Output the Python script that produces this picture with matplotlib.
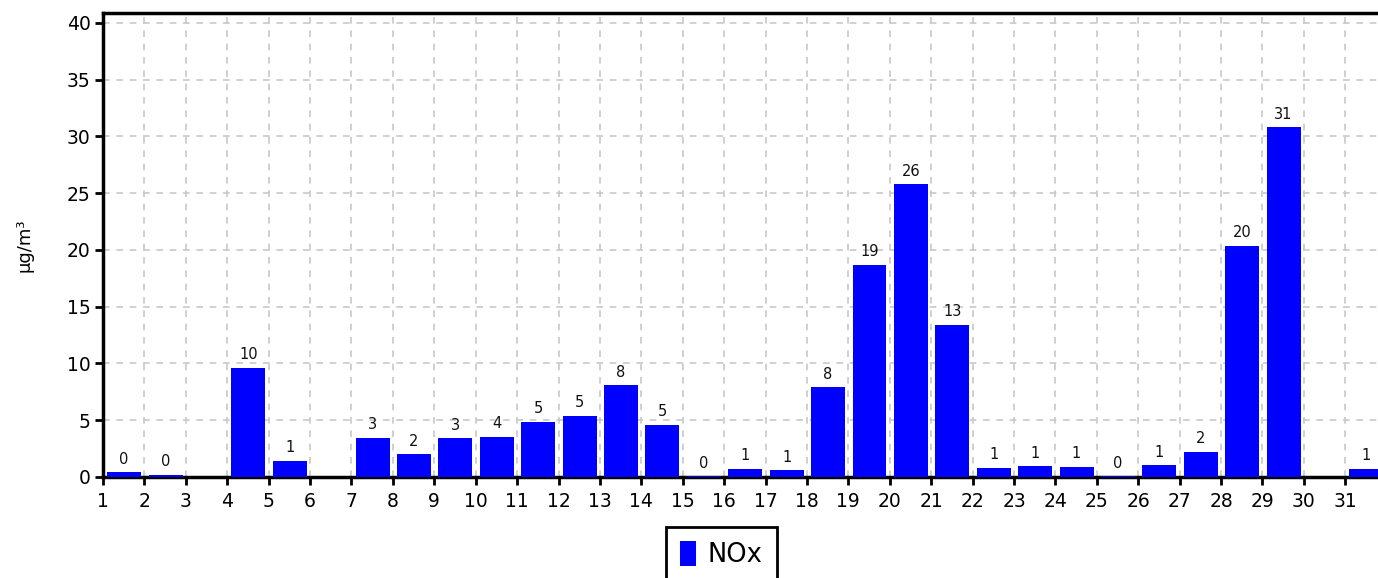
import matplotlib
matplotlib.use("Agg")
import matplotlib.pyplot as plt
import numpy as np

days = list(range(1, 32))
nox = [0.4, 0.2, np.nan, 9.6, 1.45, np.nan, 3.45, 2.0, 3.4, 3.55,
       4.85, 5.4, 8.1, 4.6, 0.05, 0.7, 0.6, 7.9, 18.7, 25.8,
       13.4, 0.8, 0.95, 0.9, 0.05, 1.05, 2.2, 20.35, 30.8, np.nan,
       0.7]
series_name = "NOx"
y_label = "µg/m³"
bar_color = "#0000ff"

plt.rcParams['font.family'] = ['DejaVu Sans']
fig = plt.figure(figsize=(13.78, 5.78), dpi=100)
ax = fig.add_axes([103/1378, 1 - 477/578, 1 - 103/1378, (477 - 13)/578])

x = np.array(days) + 0.51
vals = np.array(nox, dtype=float)
bars = ax.bar(x, vals, width=0.82, color=bar_color, label=series_name, zorder=3)

for xi, v in zip(x, vals):
    if np.isnan(v):
        continue
    ax.annotate(f"{int(np.floor(v + 0.5))}", (xi, v), xytext=(0, 4), textcoords="offset points",
                ha="center", va="bottom", fontsize=10.5, color="#111111", zorder=4)

ax.set_xlim(1, 31.79)
ax.set_ylim(0, 40.88)
ax.set_xticks(days)
ax.set_yticks(range(0, 41, 5))
ax.tick_params(axis='both', direction='out', length=6, width=2, labelsize=13.5, colors='black')
ax.tick_params(axis='x', pad=5)
ax.tick_params(axis='y', pad=3)

ax.grid(True, color="#c8c8c8", linestyle=(0, (4, 4)), linewidth=1.2, zorder=0)
ax.set_axisbelow(True)

for s in ['left', 'bottom', 'top']:
    ax.spines[s].set_linewidth(2.5)
    ax.spines[s].set_color('black')
ax.spines['right'].set_visible(False)

ax.set_ylabel(y_label, fontsize=13, labelpad=24)

leg = fig.legend(handles=[bars], labels=[series_name], loc='upper center',
                 bbox_to_anchor=(721.5/1378, 1 - 527/578), fontsize=18.5,
                 handlelength=0.62, handleheight=1.1, handletextpad=0.45,
                 borderpad=0.55, borderaxespad=0, frameon=True, fancybox=False,
                 framealpha=1)
leg.get_frame().set_edgecolor('black')
leg.get_frame().set_linewidth(2)

fig.savefig("out.png", dpi=100)
